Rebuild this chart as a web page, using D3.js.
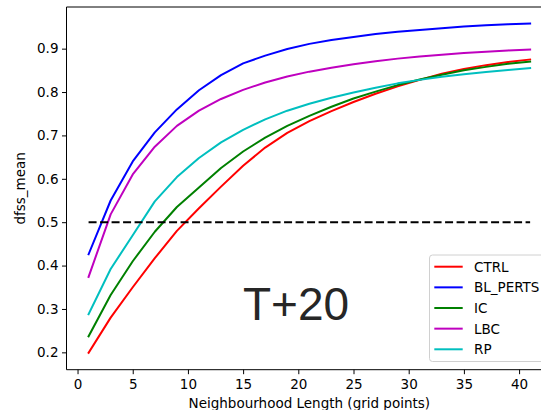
<!DOCTYPE html>
<html>
<head>
<meta charset="utf-8">
<script src="https://cdn.jsdelivr.net/npm/d3@7"></script>
<style>
  html, body { margin: 0; padding: 0; background: #fff; }
  svg { display: block; }
  text { font-family: "DejaVu Sans", sans-serif; }
</style>
</head>
<body>
<svg id="chart" width="541" height="410"></svg>
<script>
// Neighbourhood length (grid points) at which the score was evaluated
const lengths = [1, 3, 5, 7, 9, 11, 13, 15, 17, 19, 21, 23, 25, 27, 29, 31, 33, 35, 37, 39, 41];

// dfss_mean per experiment
const ctrl    = [0.199, 0.280, 0.350, 0.417, 0.480, 0.532, 0.582, 0.630, 0.672, 0.706, 0.733, 0.756, 0.777, 0.796, 0.813, 0.828, 0.842, 0.853, 0.862, 0.869, 0.875];
const blPerts = [0.426, 0.550, 0.640, 0.707, 0.760, 0.804, 0.839, 0.866, 0.884, 0.899, 0.911, 0.920, 0.927, 0.934, 0.939, 0.943, 0.947, 0.951, 0.954, 0.956, 0.958];
const ic      = [0.237, 0.332, 0.410, 0.478, 0.535, 0.580, 0.625, 0.663, 0.695, 0.722, 0.745, 0.766, 0.785, 0.801, 0.816, 0.829, 0.840, 0.850, 0.858, 0.865, 0.870];
const lbc     = [0.374, 0.518, 0.610, 0.674, 0.722, 0.757, 0.784, 0.805, 0.822, 0.836, 0.847, 0.856, 0.864, 0.871, 0.877, 0.882, 0.886, 0.890, 0.893, 0.896, 0.898];
const rp      = [0.288, 0.392, 0.470, 0.548, 0.604, 0.648, 0.684, 0.713, 0.737, 0.757, 0.773, 0.787, 0.799, 0.810, 0.820, 0.828, 0.835, 0.841, 0.846, 0.851, 0.855];

const seriesNames  = ["CTRL", "BL_PERTS", "IC", "LBC", "RP"];
const seriesValues = [ctrl, blPerts, ic, lbc, rp];
const seriesColors = ["#ff0000", "#0000ff", "#008000", "#bf00bf", "#00bfbf"];

const threshold = 0.5;
const xTicks = [0, 5, 10, 15, 20, 25, 30, 35, 40];
const yTicks = [0.2, 0.3, 0.4, 0.5, 0.6, 0.7, 0.8, 0.9];
const leadTime = "T+20";

const svg = d3.select("#chart");
const fontSize = "13.5px";

// plot area (right edge runs past the visible canvas)
const plotLeft = 66.5, plotRight = 552.2, plotTop = 7, plotBottom = 369.7;

const x = d3.scaleLinear().domain([-1, 43]).range([plotLeft, plotRight]);
const y = d3.scaleLinear().domain([0.160, 0.996]).range([plotBottom, plotTop]);

const line = d3.line()
  .x(d => x(d[0]))
  .y(d => y(d[1]));

// data curves
seriesValues.forEach((vals, i) => {
  svg.append("path")
    .datum(lengths.map((l, j) => [l, vals[j]]))
    .attr("d", line)
    .attr("fill", "none")
    .attr("stroke", seriesColors[i])
    .attr("stroke-width", 2)
    .attr("stroke-linejoin", "round")
    .attr("stroke-linecap", "square");
});

// 0.5 reference line
svg.append("path")
  .datum([[lengths[0], threshold], [lengths[lengths.length - 1], threshold]])
  .attr("d", line)
  .attr("fill", "none")
  .attr("stroke", "#000")
  .attr("stroke-width", 2)
  .attr("stroke-dasharray", "8,3.5");

// axes
const xAxis = d3.axisBottom(x).tickValues(xTicks).tickSize(4.5).tickPadding(5.5).tickFormat(d3.format("d"));
const yAxis = d3.axisLeft(y).tickValues(yTicks).tickSize(4.5).tickPadding(3.5).tickFormat(d3.format(".1f"));

const gx = svg.append("g").attr("transform", `translate(0,${plotBottom})`).call(xAxis);
const gy = svg.append("g").attr("transform", `translate(${plotLeft},0)`).call(yAxis);

[gx, gy].forEach(g => {
  g.select(".domain").remove();
  g.selectAll(".tick line").attr("stroke", "#000").attr("stroke-width", 1);
  g.selectAll(".tick text")
    .attr("fill", "#000")
    .style("font-family", "DejaVu Sans")
    .style("font-size", fontSize);
});

// spines
const spine = (x1, y1, x2, y2) => svg.append("line")
  .attr("x1", x1).attr("y1", y1).attr("x2", x2).attr("y2", y2)
  .attr("stroke", "#000").attr("stroke-width", 1);
spine(plotLeft, plotTop, plotLeft, plotBottom);
spine(plotLeft, plotBottom, plotRight, plotBottom);
spine(plotLeft, plotTop, plotRight, plotTop);
spine(plotRight, plotTop, plotRight, plotBottom);

// axis labels
svg.append("text")
  .attr("x", (plotLeft + plotRight) / 2)
  .attr("y", 408)
  .attr("text-anchor", "middle")
  .style("font-size", fontSize)
  .attr("fill", "#000")
  .text("Neighbourhood Length (grid points)");

svg.append("text")
  .attr("transform", `translate(25,${(plotTop + plotBottom) / 2}) rotate(-90)`)
  .attr("text-anchor", "middle")
  .style("font-size", fontSize)
  .attr("fill", "#000")
  .text("dfss_mean");

// lead-time annotation
svg.append("text")
  .attr("x", 296)
  .attr("y", 319.5)
  .attr("text-anchor", "middle")
  .style("font-family", "Liberation Sans, Arial, sans-serif")
  .style("font-size", "46px")
  .attr("fill", "#262626")
  .text(leadTime);

// legend
const legend = svg.append("g");
legend.append("rect")
  .attr("x", 429.5).attr("y", 255)
  .attr("width", 140).attr("height", 106.5)
  .attr("rx", 3).attr("ry", 3)
  .attr("fill", "#fff").attr("fill-opacity", 0.8)
  .attr("stroke", "#d0d0d0").attr("stroke-width", 1);

seriesNames.forEach((name, i) => {
  const cy = 266.7 + i * 20.65;
  legend.append("line")
    .attr("x1", 434.3).attr("x2", 462.7)
    .attr("y1", cy).attr("y2", cy)
    .attr("stroke", seriesColors[i]).attr("stroke-width", 2);
  legend.append("text")
    .attr("x", 474).attr("y", cy)
    .attr("dy", "0.36em")
    .style("font-size", fontSize)
    .attr("fill", "#000")
    .text(name);
});
</script>
</body>
</html>
